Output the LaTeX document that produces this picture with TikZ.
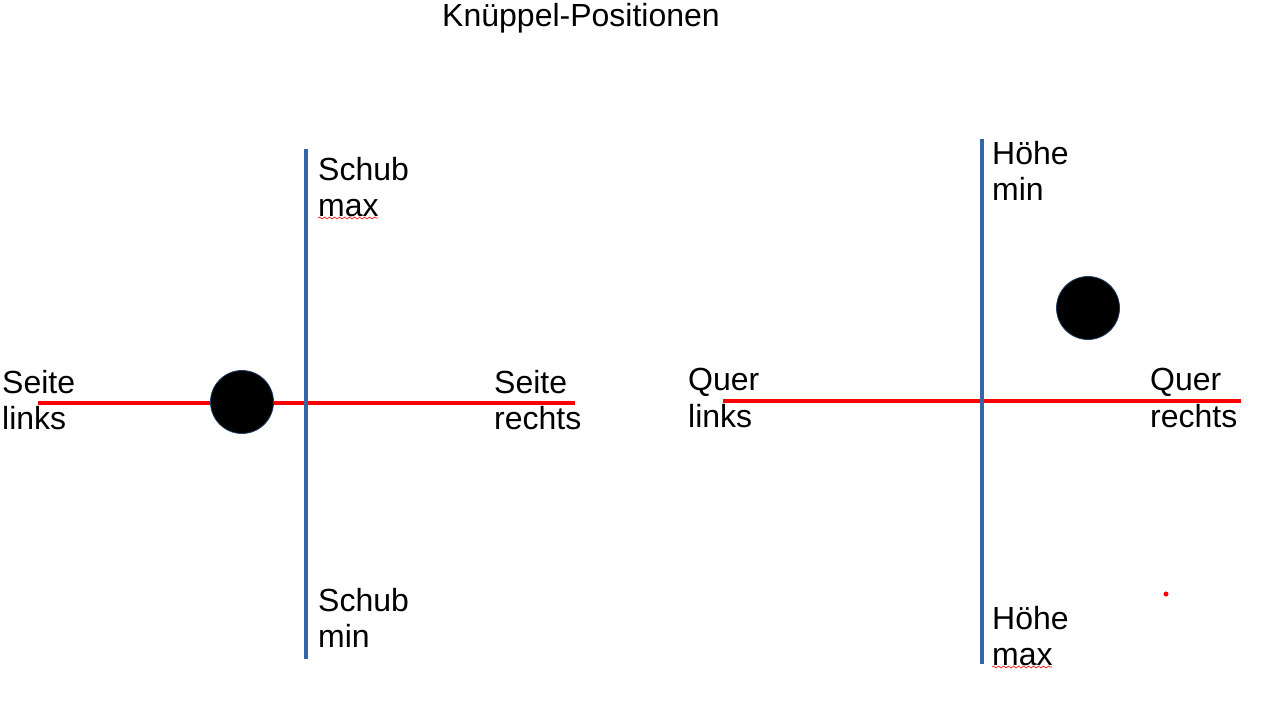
\documentclass[tikz,border=0pt]{standalone}
\usepackage{fontspec}
\setmainfont{Liberation Sans}
\usetikzlibrary{decorations.pathmorphing}
\definecolor{axisblue}{RGB}{52,101,164}
\definecolor{axisred}{RGB}{255,0,0}
\begin{document}
\begin{tikzpicture}[x=1pt,y=-1pt,
  lbl/.style={anchor=north west,inner sep=0pt,align=left,font=\fontsize{32}{36.5}\selectfont},
  vaxis/.style={draw=axisblue,line width=4.5pt},
  haxis/.style={draw=axisred,line width=4pt},
  knob/.style={circle,fill=black,draw=axisblue!60!black,line width=0.8pt,minimum size=63pt,inner sep=0pt},
  squiggle/.style={draw=red,line width=0.6pt,decorate,decoration={snake,amplitude=1pt,segment length=5pt}}
]
\useasboundingbox (0,0) rectangle (1263,709);
% title
\node[anchor=north,inner sep=0pt,font=\fontsize{32}{36.5}\selectfont] (title) at (581,3) {Knüppel-Positionen};
% left stick
\coordinate (lt) at (306,149);
\coordinate (lb) at (306,659);
\coordinate (ll) at (38,403);
\coordinate (lr) at (575,403);
\draw[haxis] (ll) -- (lr);
\draw[vaxis] (lt) -- (lb);
\node[knob] (lknob) at (242,402) {};
\node[lbl] (schubmax) at (318,157) {Schub\\max};
\node[lbl] (schubmin) at (318,588) {Schub\\min};
\node[lbl] (seitel) at (2,370) {Seite\\links};
\node[lbl] (seiter) at (494,370) {Seite\\rechts};
% right stick
\coordinate (rt) at (982,139);
\coordinate (rb) at (982,664);
\coordinate (rl) at (723,401);
\coordinate (rr) at (1241,401);
\draw[haxis] (rl) -- (rr);
\draw[vaxis] (rt) -- (rb);
\node[knob] (rknob) at (1088,308) {};
\node[lbl] (hoehemin) at (992,141) {Höhe\\min};
\node[lbl] (hoehemax) at (992,606) {Höhe\\max};
\node[lbl] (querl) at (688,368) {Quer\\links};
\node[lbl] (querr) at (1150,368) {Quer\\rechts};
% small red dot
\node[circle,fill=axisred,minimum size=5pt,inner sep=0pt] (dot) at (1166,594) {};
% spell-check squiggles
\coordinate (sq1a) at (318,218);
\coordinate (sq1b) at (378,218);
\coordinate (sq2a) at (992,667);
\coordinate (sq2b) at (1052,667);
\draw[squiggle] (sq1a) -- (sq1b);
\draw[squiggle] (sq2a) -- (sq2b);
\end{tikzpicture}
\end{document}
